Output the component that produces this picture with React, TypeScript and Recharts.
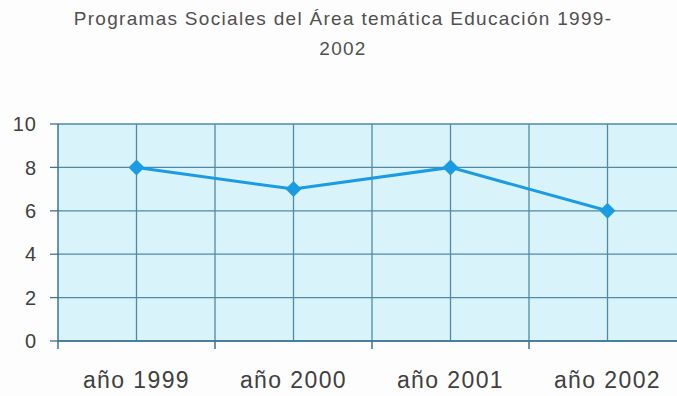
import { LineChart, Line, XAxis, YAxis, CartesianGrid } from "recharts";

// Social programmes in the Education thematic area, per year
const years = ["año 1999", "año 2000", "año 2001", "año 2002"];
const programas = [8, 7, 8, 6];
const yTicks = [0, 2, 4, 6, 8, 10];

const data = years.map((year, i) => ({ year, programas: programas[i] }));

const GRID = "#4f8aa8";
const AXIS = "#3b7391";
const LINE = "#1b9be2";
const PLOT_BG = "#d9f3fa";
const TEXT = "#404040";
const FONT = "'Liberation Sans', Arial, sans-serif";

const Diamond = ({ cx, cy }: any) => {
  if (cx == null || cy == null) return null;
  return (
    <polygon
      points={`${cx},${cy - 8} ${cx + 8},${cy} ${cx},${cy + 8} ${cx - 8},${cy}`}
      fill={LINE}
    />
  );
};

// label sits under the band centre, tick mark on the band edge
const YearTick = ({ x, y, payload }: any) => {
  const edge = x - (payload.offset ?? 0);
  return (
    <g>
      <line x1={edge} y1={y} x2={edge} y2={y + 8} stroke={AXIS} strokeWidth={1.5} />
      <text
        x={x}
        y={y + 47}
        textAnchor="middle"
        fill={TEXT}
        fontSize={23}
        letterSpacing={1.4}
        fontFamily={FONT}
      >
        {payload.value}
      </text>
    </g>
  );
};

export default function App() {
  return (
    <div
      style={{
        position: "absolute",
        left: 0,
        top: 0,
        width: 677,
        height: 396,
        overflow: "hidden",
        background: "#fdfdfd",
      }}
    >
      <div
        style={{
          position: "absolute",
          left: 0,
          top: 4,
          width: 686,
          textAlign: "center",
          fontFamily: FONT,
          fontSize: 19,
          lineHeight: "30px",
          letterSpacing: 1.3,
          color: "#505050",
        }}
      >
        Programas Sociales del Área temática Educación 1999-
        <br />
        2002
      </div>
      <LineChart
        width={686}
        height={396}
        data={data}
        margin={{ top: 124, right: 0, bottom: 0, left: 0 }}
      >
        <CartesianGrid
          stroke={GRID}
          strokeWidth={1.3}
          fill={PLOT_BG}
          fillOpacity={1}
          verticalCoordinatesGenerator={({ offset }: any) =>
            [1, 2, 3, 4, 5, 6, 7].map((i) => offset.left + (offset.width * i) / 8)
          }
        />
        <XAxis
          dataKey="year"
          scale="band"
          height={55}
          axisLine={{ stroke: AXIS, strokeWidth: 1.5 }}
          tickLine={false}
          tickSize={0}
          tickMargin={0}
          interval={0}
          tick={<YearTick />}
        />
        <YAxis
          width={58}
          domain={[0, 10]}
          ticks={yTicks}
          interval={0}
          axisLine={{ stroke: AXIS, strokeWidth: 1.5 }}
          tickLine={{ stroke: AXIS, strokeWidth: 1.3 }}
          tickSize={8}
          tickMargin={13}
          tick={{ fill: TEXT, fontSize: 20, fontFamily: FONT, letterSpacing: 1 }}
        />
        <Line
          type="linear"
          dataKey="programas"
          stroke={LINE}
          strokeWidth={3}
          dot={<Diamond />}
          activeDot={false}
          isAnimationActive={false}
        />
      </LineChart>
    </div>
  );
}
